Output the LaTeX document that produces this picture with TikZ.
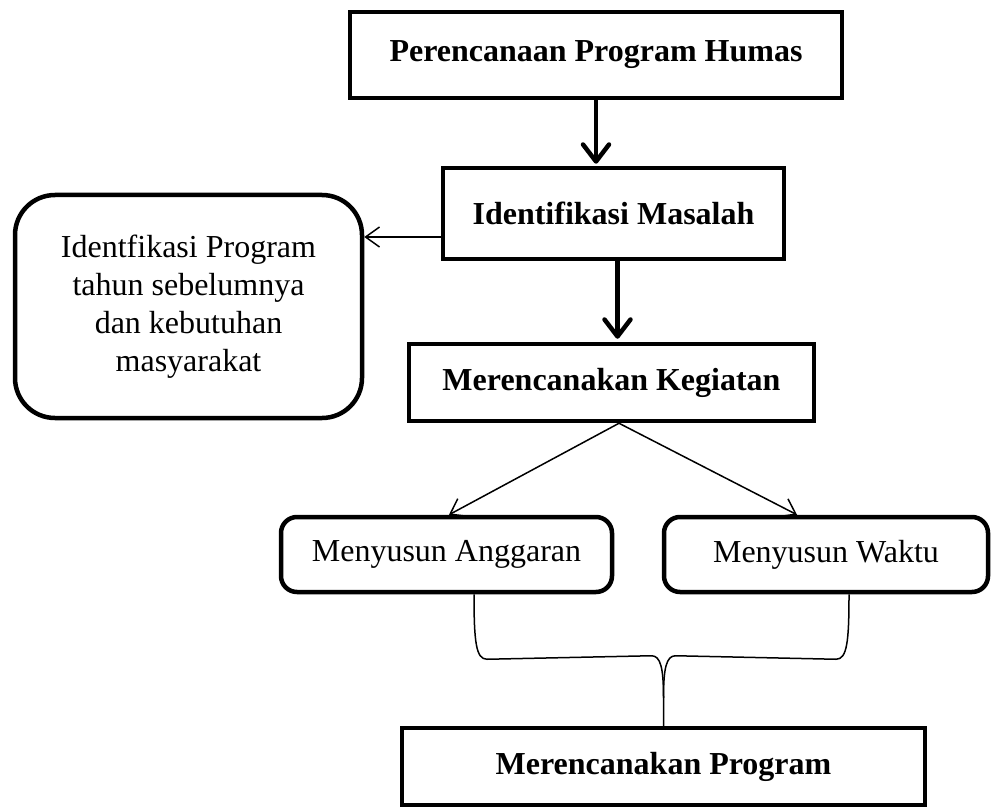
\documentclass[tikz,border=0pt]{standalone}
\usepackage{fontspec}
\setmainfont{Liberation Serif}
\usetikzlibrary{arrows.meta,calc}
\begin{document}
\begin{tikzpicture}[x=1pt,y=-1pt,
  box/.style={draw,line width=4.5pt,rectangle,inner sep=0pt,align=center,
    font=\fontsize{32}{38}\selectfont\bfseries},
  rbox/.style={draw,line width=4.5pt,rectangle,rounded corners=16pt,inner sep=0pt,
    align=center,font=\fontsize{32}{38}\selectfont},
  bigarrow/.style={line width=4.5pt,
    -{Straight Barb[length=17pt,width=26pt,line join=round,line cap=round]}},
  thinarrow/.style={line width=1.5pt,-{Straight Barb[length=14pt,width=20pt]}},
  bracket/.style={line width=1.5pt},
]
\useasboundingbox (0,0) rectangle (992,810);

% boxes
\node[box,minimum width=492pt,minimum height=86pt] (humas) at (596,55) {Perencanaan Program Humas};
\node[box,minimum width=341pt,minimum height=91pt] (idm) at (613.5,213.5) {Identifikasi Masalah};
\node[rbox,rounded corners=40pt,minimum width=347pt,minimum height=223pt] (prev) at (188.5,306.5)
  {Identfikasi Program\\tahun sebelumnya\\dan kebutuhan\\masyarakat};
\node[box,minimum width=405pt,minimum height=77pt] (mk) at (611.5,382.5) {Merencanakan Kegiatan};
\node[rbox,minimum width=331pt,minimum height=75pt] (ma) at (446.5,554.5) {Menyusun Anggaran};
\node[rbox,minimum width=324pt,minimum height=75pt] (mw) at (826,554.5) {Menyusun Waktu};
\node[box,minimum width=523pt,minimum height=77pt] (mp) at (663.5,766.5) {Merencanakan Program};

% connectors
\draw[bigarrow,shorten >=2pt] (humas.south) -- (humas.south |- idm.north);
\coordinate (idmleft) at ([yshift=-23.5pt]idm.west);
\draw[thinarrow] (idmleft) -- (prev.east |- idmleft);
\coordinate (idmdown) at ([xshift=4pt]idm.south);
\draw[bigarrow,shorten >=3pt] (idmdown) -- (idmdown |- mk.north);
\coordinate (mkfork) at ([xshift=7.5pt]mk.south);
\draw[thinarrow] (mkfork) -- ([xshift=2.5pt]ma.north);
\draw[thinarrow] (mkfork) -- ([xshift=-29pt]mw.north);

% brace joining the two tasks into the programme
\coordinate (bl) at ([xshift=27.5pt]ma.south);
\coordinate (br) at ([xshift=23pt]mw.south);
\coordinate (bt) at (mp.north);
\draw[bracket] (bl) .. controls ($(bl)+(0,48)$) and ($(bl)+(2,65)$) .. ($(bl)+(13,65)$)
  -- ($(bt)+(-12,-70)$) .. controls ($(bt)+(-3,-70)$) and ($(bt)+(0,-58)$) .. ($(bt)+(0,-28)$)
  -- (bt);
\draw[bracket] (br) .. controls ($(br)+(0,48)$) and ($(br)+(-2,65)$) .. ($(br)+(-13,65)$)
  -- ($(bt)+(12,-70)$) .. controls ($(bt)+(3,-70)$) and ($(bt)+(0,-58)$) .. ($(bt)+(0,-28)$);
\end{tikzpicture}
\end{document}
